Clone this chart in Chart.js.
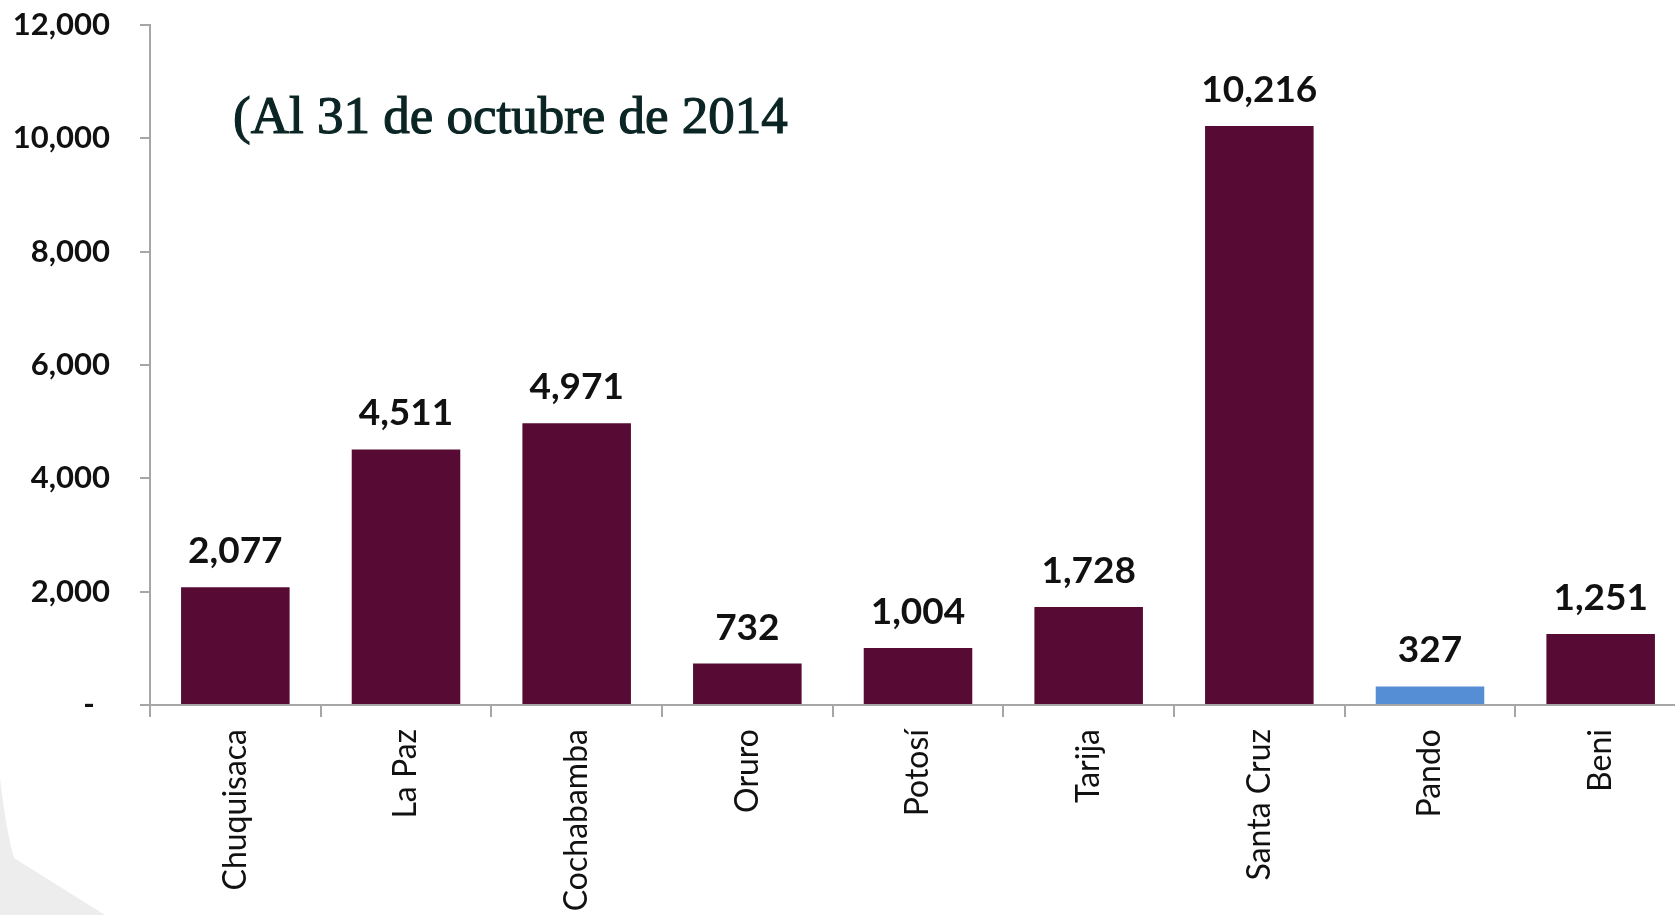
<!DOCTYPE html>
<html>
<head>
<meta charset="utf-8">
<script src="https://cdn.jsdelivr.net/npm/chart.js@4/dist/chart.umd.min.js"></script>
<style>
  html, body { margin: 0; padding: 0; overflow: hidden; background: #ffffff; }
  #wrap { width: 1686px; height: 915px; }
</style>
</head>
<body>
<div id="wrap"><canvas id="c" width="1686" height="915"></canvas></div>
<script>
// Departamentos y valores por barra
const departamentos = ['Chuquisaca', 'La Paz', 'Cochabamba', 'Oruro', 'Potosí', 'Tarija', 'Santa Cruz', 'Pando', 'Beni'];
const valores = [2077, 4511, 4971, 732, 1004, 1728, 10216, 327, 1251];
const marcasEjeY = [0, 2000, 4000, 6000, 8000, 10000, 12000];
const subtitulo = '(Al 31 de octubre de 2014';
const destacado = 'Pando';

const GRANATE = '#570a33';
const AZUL = '#558ed5';
const GRIS_EJE = '#a6a6a6';
const fmt = v => v.toLocaleString('en-US');

// Forma gris decorativa en la esquina inferior izquierda
const fondo = {
  id: 'fondo',
  beforeDraw(chart) {
    const ctx = chart.ctx;
    ctx.save();
    ctx.fillStyle = '#ffffff';
    ctx.fillRect(0, 0, chart.width, chart.height);
    ctx.fillStyle = '#ecedec';
    ctx.beginPath();
    ctx.moveTo(0, 778);
    ctx.quadraticCurveTo(6, 830, 14, 858);
    ctx.lineTo(105, 915);
    ctx.lineTo(0, 915);
    ctx.closePath();
    ctx.fill();
    ctx.restore();
  }
};

// Valores encima de cada barra
const etiquetas = {
  id: 'etiquetas',
  afterDatasetsDraw(chart) {
    const ctx = chart.ctx;
    const meta = chart.getDatasetMeta(0);
    ctx.save();
    ctx.font = 'bold 37px Lato';
    ctx.fillStyle = '#111111';
    ctx.textAlign = 'center';
    ctx.textBaseline = 'alphabetic';
    meta.data.forEach((bar, i) => {
      ctx.fillText(fmt(valores[i]), bar.x, bar.y - 24);
    });
    ctx.restore();
  }
};

// Subtítulo con la fecha de corte
const rotulo = {
  id: 'rotulo',
  afterDraw(chart) {
    const ctx = chart.ctx;
    ctx.save();
    ctx.beginPath();
    ctx.rect(0, 0, 788, chart.height);
    ctx.clip();
    ctx.font = '53px "Liberation Serif"';
    ctx.fillStyle = '#0b2525';
    ctx.strokeStyle = '#0b2525';
    ctx.lineWidth = 1.2;
    ctx.textAlign = 'left';
    ctx.textBaseline = 'alphabetic';
    ctx.fillText(subtitulo, 233, 133);
    ctx.strokeText(subtitulo, 233, 133);
    ctx.restore();
  }
};

new Chart(document.getElementById('c'), {
  type: 'bar',
  data: {
    labels: departamentos,
    datasets: [{
      data: valores,
      backgroundColor: ctx => departamentos[ctx.dataIndex] === destacado ? AZUL : GRANATE,
      borderWidth: 0,
      categoryPercentage: 1,
      barPercentage: 0.636
    }]
  },
  options: {
    responsive: false,
    animation: false,
    devicePixelRatio: 1,
    layout: { padding: { top: 25, left: 0, right: 0, bottom: 0 } },
    plugins: { legend: { display: false }, tooltip: { enabled: false }, title: { display: false } },
    scales: {
      x: {
        afterFit(scale) { scale.height = 210; },
        grid: { offset: true, drawOnChartArea: false, drawTicks: true, tickLength: 12, color: GRIS_EJE, lineWidth: 2 },
        border: { color: GRIS_EJE, width: 2 },
        ticks: {
          autoSkip: false, maxRotation: 90, minRotation: 90, padding: 12,
          color: '#111111', font: { family: 'Lato', size: 32 }
        }
      },
      y: {
        min: 0, max: 12000,
        afterFit(scale) { scale.width = 150; scale.paddingTop = 0; scale.paddingBottom = 0; },
        afterBuildTicks(scale) { scale.ticks = marcasEjeY.map(v => ({ value: v })); },
        grid: { drawOnChartArea: false, drawTicks: true, tickLength: 10, color: GRIS_EJE, lineWidth: 2 },
        border: { color: GRIS_EJE, width: 2 },
        ticks: {
          padding: 30, color: '#111111', font: { family: 'Lato', size: 31, weight: 'bold' },
          callback: v => v === 0 ? '-\u00a0\u00a0' : fmt(v)
        }
      }
    }
  },
  plugins: [fondo, etiquetas, rotulo]
});
</script>
</body>
</html>
